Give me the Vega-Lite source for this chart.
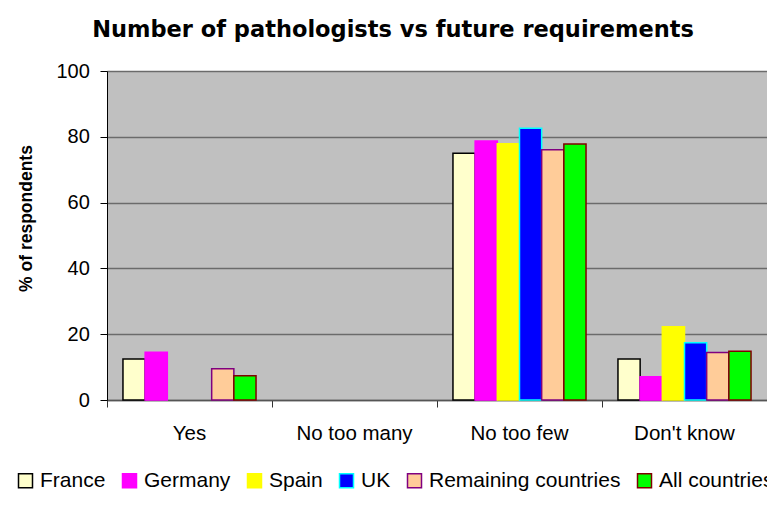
{
  "$schema": "https://vega.github.io/schema/vega-lite/v6.json",
  "width": 660,
  "height": 329,
  "autosize": {"type": "none"},
  "padding": {"left": 107, "top": 71, "right": 0, "bottom": 121},
  "background": "white",
  "title": {
    "text": "Number of pathologists vs future requirements",
    "font": "DejaVu Sans",
    "fontSize": 22.5,
    "fontWeight": "bold",
    "color": "black",
    "anchor": "middle",
    "dx": -44,
    "baseline": "alphabetic",
    "offset": 2
  },
  "data": {
    "values": [
      {"answer": "Yes", "country": "France", "percent": 12.5},
      {"answer": "Yes", "country": "Germany", "percent": 14.5},
      {"answer": "Yes", "country": "Spain", "percent": 0},
      {"answer": "Yes", "country": "UK", "percent": 0},
      {"answer": "Yes", "country": "Remaining countries", "percent": 9.5},
      {"answer": "Yes", "country": "All countries", "percent": 7.4},
      {"answer": "No too many", "country": "France", "percent": 0},
      {"answer": "No too many", "country": "Germany", "percent": 0},
      {"answer": "No too many", "country": "Spain", "percent": 0},
      {"answer": "No too many", "country": "UK", "percent": 0},
      {"answer": "No too many", "country": "Remaining countries", "percent": 0},
      {"answer": "No too many", "country": "All countries", "percent": 0},
      {"answer": "No too few", "country": "France", "percent": 75},
      {"answer": "No too few", "country": "Germany", "percent": 78.7},
      {"answer": "No too few", "country": "Spain", "percent": 77.9},
      {"answer": "No too few", "country": "UK", "percent": 82.6},
      {"answer": "No too few", "country": "Remaining countries", "percent": 76.1},
      {"answer": "No too few", "country": "All countries", "percent": 77.8},
      {"answer": "Don't know", "country": "France", "percent": 12.5},
      {"answer": "Don't know", "country": "Germany", "percent": 7.1},
      {"answer": "Don't know", "country": "Spain", "percent": 22.3},
      {"answer": "Don't know", "country": "UK", "percent": 17.4},
      {"answer": "Don't know", "country": "Remaining countries", "percent": 14.4},
      {"answer": "Don't know", "country": "All countries", "percent": 14.8}
    ]
  },
  "transform": [{"filter": "datum.percent > 0"}],
  "mark": {"type": "bar", "strokeWidth": 1.5},
  "encoding": {
    "x": {
      "field": "answer",
      "type": "nominal",
      "sort": ["Yes", "No too many", "No too few", "Don't know"],
      "scale": {"domain": ["Yes", "No too many", "No too few", "Don't know"], "paddingInner": 0, "paddingOuter": 0},
      "axis": {
        "title": null,
        "labelFont": "Liberation Sans",
        "labelFontSize": 20.5,
        "labelColor": "black",
        "labelAngle": 0,
        "labelAlign": "center",
        "labelBaseline": "top",
        "labelPadding": 16,
        "bandPosition": 0,
        "labelDx": 82.5,
        "tickSize": 7,
        "tickColor": "#333333",
        "domainColor": "#555555",
        "domainWidth": 1.5,
        "grid": false
      }
    },
    "xOffset": {
      "field": "country",
      "type": "nominal",
      "scale": {"domain": ["France", "Germany", "Spain", "UK", "Remaining countries", "All countries"], "paddingInner": 0, "paddingOuter": 0.72}
    },
    "y": {
      "field": "percent",
      "type": "quantitative",
      "scale": {"domain": [0, 100]},
      "axis": {
        "title": "% of respondents",
        "titleFont": "Liberation Sans",
        "titleFontSize": 17.5,
        "titleFontWeight": "bold",
        "titleColor": "black",
        "titleAngle": 270,
        "titleAlign": "center",
        "titleBaseline": "middle",
        "titleX": -81,
        "titleY": 147,
        "values": [0, 20, 40, 60, 80, 100],
        "labelFont": "Liberation Sans",
        "labelFontSize": 20,
        "labelColor": "black",
        "labelPadding": 10.7,
        "tickSize": 7,
        "tickColor": "black",
        "domainColor": "black",
        "domainWidth": 1,
        "grid": true,
        "gridColor": "#6b6b6b",
        "gridWidth": 1.5
      }
    },
    "fill": {
      "field": "country",
      "type": "nominal",
      "scale": {
        "domain": ["France", "Germany", "Spain", "UK", "Remaining countries", "All countries"],
        "range": ["#FFFFCC", "#FF00FF", "#FFFF00", "#0000FF", "#FFCC99", "#00FF00"]
      },
      "legend": {
        "title": null,
        "orient": "none",
        "legendX": -92,
        "legendY": 399,
        "direction": "horizontal",
        "columns": 6,
        "symbolType": "square",
        "symbolSize": 196,
        "symbolStrokeWidth": 1.5,
        "labelFont": "Liberation Sans",
        "labelFontSize": 21,
        "labelColor": "black",
        "labelOffset": 4,
        "columnPadding": 13,
        "labelLimit": 0,
        "padding": 0
      }
    },
    "stroke": {
      "field": "country",
      "type": "nominal",
      "scale": {
        "domain": ["France", "Germany", "Spain", "UK", "Remaining countries", "All countries"],
        "range": ["#000000", "#FF00FF", "#FFFF00", "#00FFFF", "#800080", "#800000"]
      },
      "legend": {
        "title": null,
        "orient": "none",
        "legendX": -92,
        "legendY": 399,
        "direction": "horizontal",
        "columns": 6,
        "symbolType": "square",
        "symbolSize": 196,
        "symbolStrokeWidth": 1.5,
        "labelFont": "Liberation Sans",
        "labelFontSize": 21,
        "labelColor": "black",
        "labelOffset": 4,
        "columnPadding": 13,
        "labelLimit": 0,
        "padding": 0
      }
    }
  },
  "config": {
    "view": {"fill": "#C0C0C0", "stroke": null}
  }
}
